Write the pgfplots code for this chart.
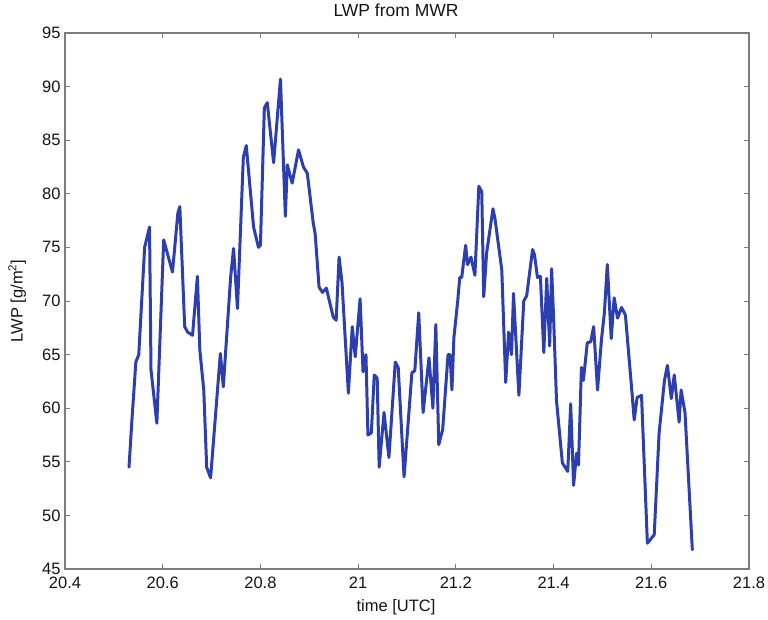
\documentclass[border=0pt]{standalone}
\usepackage{pgfplots}
\pgfplotsset{compat=1.18}
\usepackage{fontspec}
\setmainfont{Liberation Sans}
\definecolor{lineblue}{RGB}{45,62,175}
\definecolor{axgray}{RGB}{125,125,125}
\definecolor{txt}{RGB}{20,20,20}
\begin{document}
\begin{tikzpicture}
\useasboundingbox (-65pt,-51pt) rectangle (703pt,569pt);
\begin{axis}[
  scale only axis,
  width=684pt, height=536pt,
  xmin=20.4, xmax=21.8, ymin=45, ymax=95,
  xtick={20.4,20.6,20.8,21,21.2,21.4,21.6,21.8},
  ytick={45,50,55,60,65,70,75,80,85,90,95},
  tick align=inside,
  major tick length=5pt,
  axis line style={axgray, line width=1.1pt},
  every tick/.style={axgray, line width=0.9pt},
  /pgf/number format/assume math mode=true,
  /pgf/number format/fixed,
  tick label style={font=\fontsize{16.5}{19}\selectfont, text=txt},
  xticklabel style={yshift=-4.5pt},
  yticklabel style={xshift=-1pt},
  title={LWP from MWR},
  title style={at={(axis description cs:0.484,1)}, anchor=base, yshift=10pt, font=\fontsize{17.5}{20}\selectfont, text=txt},
  xlabel={time [UTC]},
  xlabel style={at={(axis description cs:0.484,0)}, anchor=base, yshift=-43pt, font=\fontsize{16.5}{19}\selectfont, text=txt},
  ylabel={LWP [g/m\textsuperscript{2}]},
  ylabel style={at={(axis description cs:-0.070,0.5)}, anchor=center, font=\fontsize{16.5}{19}\selectfont, text=txt},
]
\addplot[lineblue, line width=3pt, line join=round, line cap=round] coordinates {
(20.531,54.5) (20.537,58.9) (20.545,64.3) (20.551,65.0) (20.563,75.0) (20.573,76.9)
(20.576,63.6) (20.588,58.6) (20.602,75.7) (20.620,72.7) (20.631,78.2) (20.635,78.8)
(20.645,67.6) (20.651,67.1) (20.661,66.8) (20.671,72.3) (20.676,65.4) (20.684,61.7)
(20.690,54.5) (20.698,53.5) (20.718,65.1) (20.724,62.0) (20.739,72.2) (20.745,74.9)
(20.753,69.3) (20.765,83.4) (20.771,84.5) (20.786,76.9) (20.796,75.0) (20.800,75.2)
(20.808,88.0) (20.814,88.5) (20.827,82.9) (20.841,90.7) (20.851,77.9) (20.855,82.7)
(20.865,81.0) (20.878,84.1) (20.888,82.5) (20.896,81.9) (20.908,77.3) (20.912,76.3)
(20.920,71.3) (20.927,70.8) (20.935,71.2) (20.949,68.5) (20.955,68.2) (20.961,74.1)
(20.967,71.7) (20.980,61.4) (20.988,67.6) (20.994,64.8) (21.004,70.2) (21.010,63.4)
(21.016,65.0) (21.020,57.5) (21.027,57.7) (21.033,63.1) (21.039,62.8) (21.043,54.5)
(21.053,59.6) (21.063,55.4) (21.076,64.3) (21.082,63.8) (21.094,53.6) (21.110,63.3)
(21.116,63.5) (21.124,68.9) (21.133,59.6) (21.145,64.7) (21.153,60.0) (21.159,67.8)
(21.165,56.6) (21.173,58.0) (21.184,65.0) (21.188,65.0) (21.192,61.7) (21.196,66.6)
(21.204,70.1) (21.208,72.2) (21.212,72.2) (21.220,75.2) (21.224,73.4) (21.231,74.1)
(21.239,72.4) (21.247,80.7) (21.253,80.2) (21.257,70.4) (21.263,74.5) (21.276,78.6)
(21.280,77.7) (21.294,72.9) (21.302,62.4) (21.308,67.1) (21.314,65.0) (21.318,70.7)
(21.329,61.2) (21.339,70.0) (21.345,70.5) (21.357,74.8) (21.361,74.3) (21.367,72.2)
(21.373,72.3) (21.380,65.2) (21.386,72.1) (21.392,65.8) (21.396,73.0) (21.400,68.5)
(21.406,60.7) (21.418,54.9) (21.429,54.1) (21.435,60.4) (21.441,52.8) (21.447,55.8)
(21.451,54.7) (21.457,63.8) (21.461,62.6) (21.469,66.1) (21.476,66.2) (21.482,67.6)
(21.490,61.7) (21.498,66.4) (21.504,68.9) (21.510,73.4) (21.518,66.5) (21.524,70.3)
(21.531,68.4) (21.539,69.4) (21.547,68.7) (21.561,61.2) (21.565,58.9) (21.571,61.0)
(21.580,61.2) (21.592,47.4) (21.606,48.2) (21.616,57.7) (21.627,62.6) (21.633,64.0)
(21.641,60.9) (21.647,63.1) (21.657,58.7) (21.661,61.7) (21.669,59.6) (21.684,46.8)
};
\end{axis}
\end{tikzpicture}
\end{document}
